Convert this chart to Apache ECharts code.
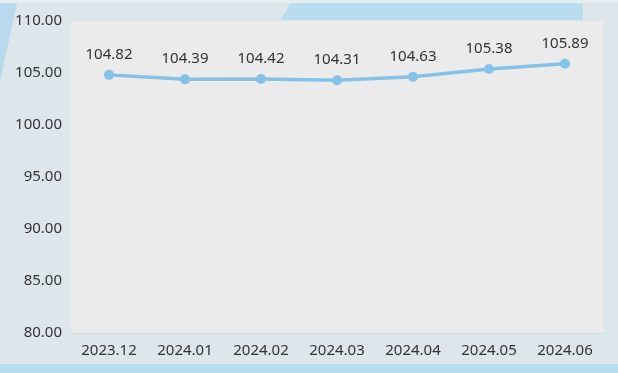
<!DOCTYPE html>
<html>
<head>
<meta charset="utf-8">
<style>
html,body{margin:0;padding:0;background:#dde6eb;}
#chart{width:618px;height:373px;}
</style>
<script src="https://cdn.jsdelivr.net/npm/echarts@6/dist/echarts.min.js"></script>
</head>
<body>
<div id="chart"></div>
<script>
var categories = ['2023.12','2024.01','2024.02','2024.03','2024.04','2024.05','2024.06'];
var values = [104.82, 104.39, 104.42, 104.31, 104.63, 105.38, 105.89];
var yTicks = {min: 80, max: 110, interval: 5};

var chart = echarts.init(document.getElementById('chart'), null, {renderer: 'canvas'});
chart.setOption({
  backgroundColor: '#dde6eb',
  animation: false,
  graphic: [
    {type: 'rect', shape: {x: 0, y: 0, width: 618, height: 3}, style: {fill: '#e6edf0'}, z: -10},
    {type: 'polygon', shape: {points: [[0,3],[17,3],[0,82]]}, style: {fill: '#b9daec'}, z: -10},
    {type: 'polygon', shape: {points: [[291,3],[583,3],[583,20],[280,20]]}, style: {fill: '#b9dcef'}, z: -10},
    {type: 'rect', shape: {x: 0, y: 364, width: 618, height: 9}, style: {fill: '#b8dcf0'}, z: -10}
  ],
  grid: {left: 71, right: 15, top: 21, bottom: 40, show: true, backgroundColor: '#ebebeb', borderWidth: 0},
  xAxis: {
    type: 'category',
    data: categories,
    axisLine: {lineStyle: {color: '#d8d8d8', width: 1}},
    axisTick: {show: false},
    axisLabel: {color: '#333', fontSize: 15, fontFamily: 'Noto Sans', margin: 10}
  },
  yAxis: {
    type: 'value',
    min: yTicks.min, max: yTicks.max, interval: yTicks.interval,
    axisLine: {show: false},
    axisTick: {show: false},
    splitLine: {show: false},
    axisLabel: {color: '#333', fontSize: 15, fontFamily: 'Noto Sans', margin: 9,
      formatter: function (v) { return v.toFixed(2); }}
  },
  series: [{
    type: 'line',
    data: values,
    symbol: 'circle',
    symbolSize: 10,
    lineStyle: {color: '#86c2e8', width: 3.5},
    itemStyle: {color: '#86c2e8'},
    label: {show: true, position: 'top', distance: 8, color: '#333', fontSize: 15, fontFamily: 'Noto Sans',
      formatter: function (p) { return p.value.toFixed(2); }}
  }]
});
</script>
</body>
</html>
